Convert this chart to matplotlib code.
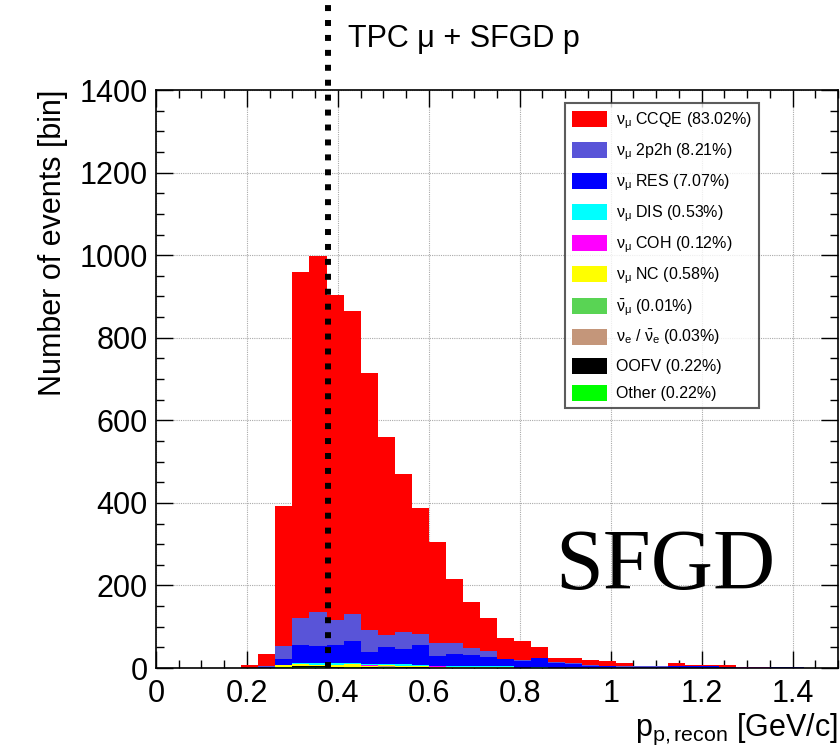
import numpy as np
import matplotlib
matplotlib.use("Agg")
import matplotlib.pyplot as plt
from matplotlib.patches import Patch
from matplotlib.ticker import MultipleLocator, FuncFormatter

plt.rcParams['font.family'] = ['Liberation Sans', 'DejaVu Sans']
plt.rcParams['mathtext.fontset'] = 'custom'
plt.rcParams['mathtext.rm'] = 'Liberation Sans'
plt.rcParams['mathtext.it'] = 'Liberation Sans'
plt.rcParams['mathtext.bf'] = 'Liberation Sans:bold'

# 40 bins from 0 to 1.5 GeV/c
edges = np.linspace(0, 1.5, 41)

ccqe  = [0, 0, 0, 0, 0, 6, 30, 339, 840, 864, 787, 734, 622, 478, 384, 306, 244, 155, 113, 80,
         49, 47, 27, 10, 14, 12, 11, 7, 1, 0, 7, 1, 3, 5, 0, 0, 0, 0, 0, 0]
np2h  = [0, 0, 0, 0, 0, 0, 2, 30, 65, 82, 60, 64, 53, 31, 40, 26, 31, 26, 17, 13,
         2, 1, 0, 2, 2, 2, 2, 1, 1, 2, 0, 2, 0, 0, 0, 0, 0, 0, 0, 0]
res   = [0, 0, 0, 0, 0, 1, 2, 15, 42, 41, 45, 54, 30, 40, 37, 48, 23, 28, 27, 23,
         17, 17, 23, 12, 8, 5, 4, 3, 3, 3, 4, 4, 5, 2, 0, 0, 3, 3, 0, 0]
dis   = [0, 0, 0, 0, 0, 0, 0, 1, 3, 4, 3, 3, 2, 3, 3, 3, 2, 3, 2, 2,
         2, 1, 1, 1, 0, 1, 0, 0, 0, 0, 0, 0, 0, 0, 0, 0, 0, 0, 0, 0]
coh   = [0, 0, 0, 0, 0, 0, 0, 0, 1, 0, 1, 0, 1, 0, 0, 0, 1, 0, 0, 0,
         0, 0, 0, 0, 0, 0, 0, 0, 0, 0, 0, 0, 0, 1, 2, 2, 0, 0, 0, 0]
nc    = [0, 0, 0, 0, 0, 0, 0, 4, 5, 4, 4, 6, 3, 3, 3, 2, 2, 2, 1, 1,
         1, 0, 1, 0, 1, 0, 0, 0, 0, 0, 0, 0, 0, 0, 0, 0, 0, 0, 0, 0]
anumu = [0, 0, 0, 0, 0, 0, 0, 0, 0, 0, 0, 0, 0, 0, 1, 0, 0, 0, 0, 0,
         0, 0, 0, 0, 0, 0, 0, 0, 0, 0, 0, 0, 0, 0, 0, 0, 0, 0, 0, 0]
nue   = [0, 0, 0, 0, 0, 0, 0, 0, 0, 0, 0, 0, 0, 1, 0, 1, 0, 0, 0, 0,
         0, 0, 0, 0, 0, 0, 0, 0, 0, 0, 0, 0, 0, 0, 0, 0, 0, 0, 0, 0]
oofv  = [0, 0, 0, 0, 0, 0, 0, 1, 2, 2, 2, 1, 2, 1, 1, 1, 1, 0, 1, 0,
         1, 0, 0, 0, 0, 0, 0, 0, 0, 0, 0, 0, 0, 0, 0, 0, 0, 0, 0, 0]
other = [0, 0, 0, 0, 0, 0, 0, 2, 2, 2, 1, 2, 1, 2, 1, 1, 0, 1, 0, 1,
         0, 0, 0, 0, 0, 0, 0, 0, 0, 0, 0, 0, 0, 0, 0, 0, 0, 0, 0, 0]

# stacked bottom -> top
layers = [
    (other, '#00ff00', 'Other (0.22%)'),
    (oofv,  '#000000', 'OOFV (0.22%)'),
    (nue,   '#c4967a', r'$\nu_e$ / $\bar{\nu}_e$ (0.03%)'),
    (anumu, '#59d454', r'$\bar{\nu}_\mu$ (0.01%)'),
    (nc,    '#ffff00', r'$\nu_\mu$ NC (0.58%)'),
    (coh,   '#ff00ff', r'$\nu_\mu$ COH (0.12%)'),
    (dis,   '#00ffff', r'$\nu_\mu$ DIS (0.53%)'),
    (res,   '#0000ff', r'$\nu_\mu$ RES (7.07%)'),
    (np2h,  '#5954d8', r'$\nu_\mu$ 2p2h (8.21%)'),
    (ccqe,  '#ff0000', r'$\nu_\mu$ CCQE (83.02%)'),
]

cut = 0.378

fig = plt.figure(figsize=(8.4, 7.47), dpi=100)
ax = fig.add_axes([156/840, 1 - 668/747, (838 - 156)/840, (668 - 90)/747])

bottom = np.zeros(len(edges) - 1)
for vals, col, lab in layers:
    top = bottom + np.array(vals, dtype=float)
    ax.stairs(top, edges, baseline=bottom, fill=True, color=col, linewidth=0)
    bottom = top

ax.set_xlim(0, 1.5)
ax.set_ylim(0, 1400)
ax.xaxis.set_major_locator(MultipleLocator(0.2))
ax.xaxis.set_minor_locator(MultipleLocator(0.05))
ax.yaxis.set_major_locator(MultipleLocator(200))
ax.yaxis.set_minor_locator(MultipleLocator(50))
ax.xaxis.set_major_formatter(FuncFormatter(lambda v, p: '%g' % round(v, 2)))
ax.tick_params(which='both', direction='in', top=True, right=True, labelsize=22)
ax.tick_params(which='major', length=12, width=1)
ax.tick_params(which='minor', length=6, width=1)
ax.tick_params(axis='x', pad=8)
ax.tick_params(axis='y', pad=6)
ax.grid(True, which='major', color='#aaaaaa', linestyle=(0, (1, 1)), linewidth=0.8)
ax.set_axisbelow(True)
for s in ax.spines.values():
    s.set_linewidth(1.2)

ax.axvline(cut, ymin=0, ymax=(668 - 3)/578, color='black', linewidth=4.3,
           linestyle=(0, (1, 1.5)), clip_on=False, zorder=5)

ax.set_ylabel('Number of events [bin]', fontsize=22, loc='top', labelpad=8)
ax.set_xlabel(r'p$_{\mathrm{p,recon}}$ [GeV/c]', fontsize=22, loc='right', labelpad=2)

fig.text(348/840, 1 - 47/747, r'TPC μ + SFGD p', fontsize=22, va='baseline', ha='left')
fig.text(555/840, 1 - 589/747, 'SFGD', fontsize=62, family='Liberation Serif',
         va='baseline', ha='left')

handles = [Patch(facecolor=c, edgecolor='none', label=l) for v, c, l in layers[::-1]]
leg = ax.legend(handles=handles, loc='upper left',
                bbox_to_anchor=((565 - 156)/682, (668 - 103)/578),
                fontsize=11.5, frameon=True, fancybox=False, edgecolor='#333333',
                handlelength=2.2, handleheight=1.15, labelspacing=0.66,
                handletextpad=0.55, borderpad=0.45, borderaxespad=0)
leg.get_frame().set_linewidth(1.5)

fig.savefig('out.png', dpi=100)
